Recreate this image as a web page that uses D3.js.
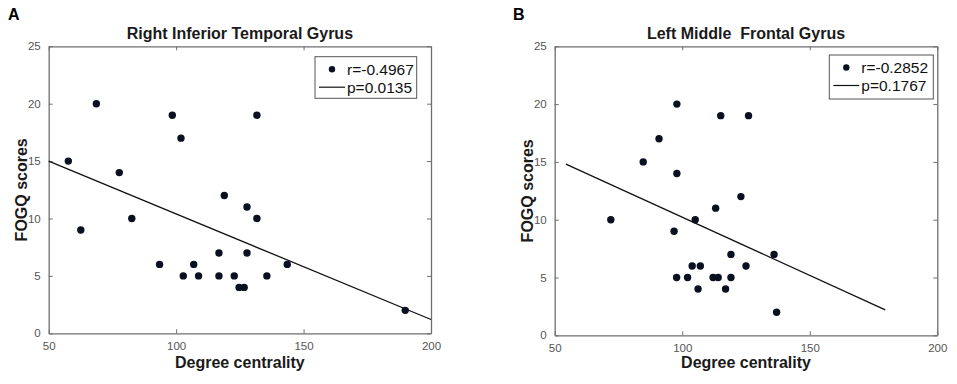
<!DOCTYPE html>
<html>
<head>
<meta charset="utf-8">
<script src="https://cdn.jsdelivr.net/npm/d3@7"></script>
<style>
  body { margin: 0; background: #fff; }
  svg { display: block; font-family: Arial, "Liberation Sans", sans-serif; }
</style>
</head>
<body>
<div id="chart"></div>
<script>
// panel A - right inferior temporal gyrus
const dcA   = [57.7, 68.7, 98.5, 101.9, 77.7, 131.7, 118.9, 62.6, 82.6, 127.8, 131.7, 93.5,
               106.9, 116.8, 127.8, 102.8, 108.8, 116.8, 122.8, 124.7, 126.7, 135.6, 143.6, 189.9];
const fogqA = [15, 20, 19, 17, 14, 19, 12, 9, 10, 11, 10, 6,
               6, 7, 7, 5, 5, 5, 5, 4, 4, 5, 6, 2];
const fitA  = [[50, 15.0], [200, 1.2]];

// panel B - left middle frontal gyrus
const dcB   = [97.9, 115.1, 126.0, 90.9, 84.7, 97.9, 123.0, 72.0, 113.1, 105.1, 96.8, 119.1,
               136.0, 103.9, 107.1, 125.0, 97.8, 102.1, 112.1, 114.1, 119.1, 106.2, 117.0, 137.0];
const fogqB = [20, 19, 19, 17, 15, 14, 12, 10, 11, 10, 9, 7,
               7, 6, 6, 6, 5, 5, 5, 5, 5, 4, 4, 2];
const fitB  = [[54.4, 14.8], [179.6, 2.2]];

const xTicks = [50, 100, 150, 200];
const yTicks = [0, 5, 10, 15, 20, 25];

const panels = [
  {letter: "A", title: "Right Inferior Temporal Gyrus", x: dcA, y: fogqA, fit: fitA,
   r: "r=-0.4967", p: "p=0.0135", left: 48.7, right: 431, top: 46.3, bottom: 333.3,
   legend: {x: 315, y: 56.7, w: 101.7, h: 41.6}},
  {letter: "B", title: "Left Middle  Frontal Gyrus", x: dcB, y: fogqB, fit: fitB,
   r: "r=-0.2852", p: "p=0.1767", left: 554.7, right: 937.3, top: 46.3, bottom: 335.3,
   legend: {x: 829.3, y: 55, w: 104, h: 44}}
];

const svg = d3.select("#chart").append("svg")
  .attr("width", 957).attr("height", 384);

const dotColor = "#0a1020";
const boxColor = "#6e6e6e";

panels.forEach((p, i) => {
  const g = svg.append("g");

  const xScale = d3.scaleLinear().domain([50, 200]).range([p.left, p.right]);
  const yScale = d3.scaleLinear().domain([0, 25]).range([p.bottom, p.top]);

  // panel letter
  g.append("text")
    .attr("x", i === 0 ? 8 : 513).attr("y", 20)
    .attr("font-size", 16).attr("font-weight", "bold")
    .text(p.letter);

  // title (keep the double space in B)
  g.append("text")
    .attr("x", (p.left + p.right) / 2).attr("y", 39)
    .attr("text-anchor", "middle")
    .attr("font-size", 16).attr("font-weight", "bold")
    .attr("fill", "#1a1a1a")
    .style("white-space", "pre")
    .text(p.title);

  // axes, ticks inside like matlab
  const axB = d3.axisBottom(xScale).tickValues(xTicks).tickSizeInner(-4).tickSizeOuter(0).tickPadding(9);
  const axL = d3.axisLeft(yScale).tickValues(yTicks).tickSizeInner(-4).tickSizeOuter(0).tickPadding(8);
  const axT = d3.axisTop(xScale).tickValues(xTicks).tickSizeInner(-4).tickSizeOuter(0).tickFormat("");
  const axR = d3.axisRight(yScale).tickValues(yTicks).tickSizeInner(-4).tickSizeOuter(0).tickFormat("");

  g.append("g").attr("transform", `translate(0,${p.bottom})`).call(axB);
  g.append("g").attr("transform", `translate(${p.left},0)`).call(axL);
  g.append("g").attr("transform", `translate(0,${p.top})`).call(axT);
  g.append("g").attr("transform", `translate(${p.right},0)`).call(axR);

  g.selectAll(".domain").attr("stroke", boxColor).attr("stroke-width", 1.3);
  g.selectAll(".tick line").attr("stroke", boxColor);
  g.selectAll(".tick text").attr("fill", "#555").attr("font-size", 11.5)
    .attr("font-family", "Arial, 'Liberation Sans', sans-serif");

  // axis labels
  g.append("text")
    .attr("x", (p.left + p.right) / 2).attr("y", 368)
    .attr("text-anchor", "middle")
    .attr("font-size", 16).attr("font-weight", "bold").attr("fill", "#1a1a1a")
    .text("Degree centrality");

  g.append("text")
    .attr("transform", `translate(${p.left - 22},${(p.top + p.bottom) / 2}) rotate(-90)`)
    .attr("text-anchor", "middle")
    .attr("font-size", 16).attr("font-weight", "bold").attr("fill", "#1a1a1a")
    .text("FOGQ scores");

  // fit line
  g.append("line")
    .attr("x1", xScale(p.fit[0][0])).attr("y1", yScale(p.fit[0][1]))
    .attr("x2", xScale(p.fit[1][0])).attr("y2", yScale(p.fit[1][1]))
    .attr("stroke", "#111").attr("stroke-width", 1.3);

  // points
  g.selectAll("circle.pt")
    .data(p.x.map((d, k) => [d, p.y[k]]))
    .join("circle")
      .attr("class", "pt")
      .attr("cx", d => xScale(d[0]))
      .attr("cy", d => yScale(d[1]))
      .attr("r", 3.7)
      .attr("fill", dotColor);

  // legend
  const L = p.legend;
  g.append("rect")
    .attr("x", L.x).attr("y", L.y).attr("width", L.w).attr("height", L.h)
    .attr("fill", "#fff").attr("stroke", "#555").attr("stroke-width", 1);
  g.append("circle")
    .attr("cx", L.x + 17).attr("cy", L.y + 12.5).attr("r", 3.2).attr("fill", dotColor);
  g.append("line")
    .attr("x1", L.x + 4).attr("x2", L.x + 30)
    .attr("y1", L.y + 30.5).attr("y2", L.y + 30.5)
    .attr("stroke", "#111").attr("stroke-width", 1.2);
  g.append("text")
    .attr("x", L.x + 32).attr("y", L.y + 18)
    .attr("font-size", 15.5).attr("fill", "#111")
    .text(p.r);
  g.append("text")
    .attr("x", L.x + 32).attr("y", L.y + 36)
    .attr("font-size", 15.5).attr("fill", "#111")
    .text(p.p);
});
</script>
</body>
</html>
